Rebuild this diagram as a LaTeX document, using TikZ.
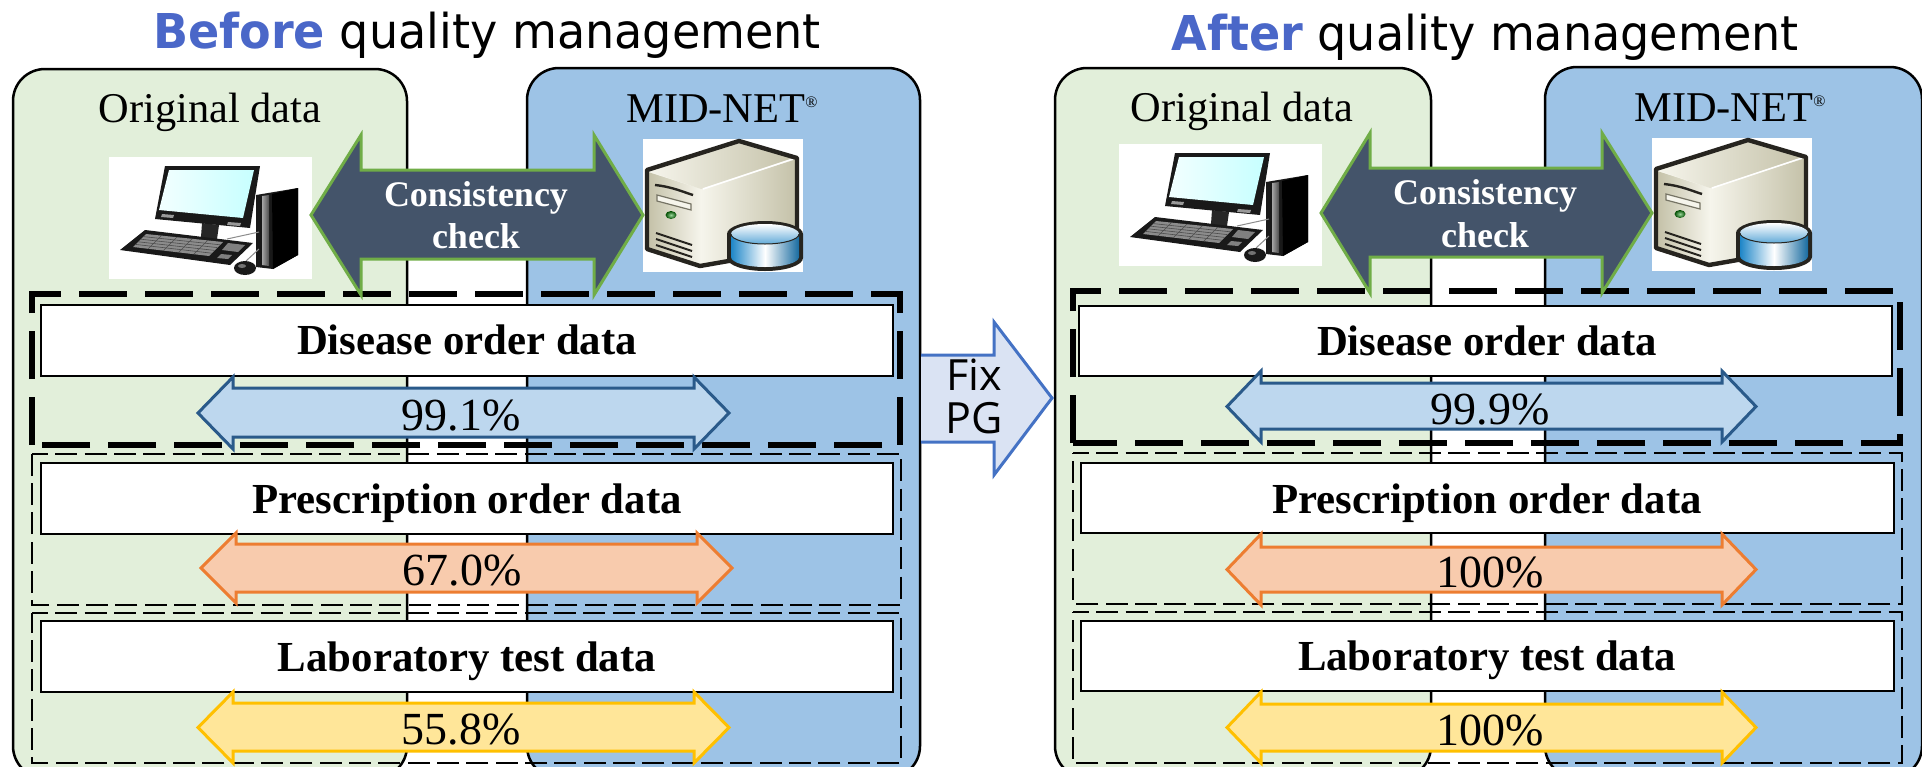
\documentclass[tikz,border=0pt]{standalone}
\usepackage{graphicx}
\usepackage{fontspec}
\setmainfont{Liberation Serif}
\newfontfamily\titlefont{DejaVu Sans}
\newfontfamily\fixfont{Open Sans}
\definecolor{panelgreen}{HTML}{E2EFDA}
\definecolor{panelblue}{HTML}{9DC3E6}
\definecolor{titleblue}{HTML}{4A67C8}
\definecolor{checkfill}{HTML}{44546A}
\definecolor{checkline}{HTML}{70AD47}
\definecolor{dfill}{HTML}{BDD7EE}
\definecolor{dline}{HTML}{2A5A8A}
\definecolor{pfill}{HTML}{F8CBAD}
\definecolor{pline}{HTML}{ED7D31}
\definecolor{lfill}{HTML}{FFE699}
\definecolor{lline}{HTML}{FFC000}
\definecolor{fixfill}{HTML}{DAE3F3}
\definecolor{fixline}{HTML}{4472C4}
\definecolor{srvlight}{HTML}{F6F5EC}
\definecolor{srvmid}{HTML}{C4C1A8}
\definecolor{srvdark}{HTML}{26241F}
\definecolor{cylblue}{HTML}{1E86C8}
\newcommand{\regmark}{\raisebox{7.5pt}{\fontsize{8}{8}\selectfont ®}}
\newcommand{\titleline}[2]{\scalebox{0.96}[1]{\textcolor{titleblue}{\bfseries #1} #2}}
\tikzset{
  panel/.style={draw=black,line width=1.25pt,rounded corners=16pt},
  bigdash/.style={draw=black,line width=3pt,dash pattern=on 24pt off 9pt},
  thindash/.style={draw=black,line width=1.25pt,dash pattern=on 11pt off 3.67pt,dash phase=3pt},
  databar/.style={draw=black,line width=1pt,fill=white},
  arrowline/.style={line width=1.5pt,line join=miter,miter limit=10},
  titletext/.style={anchor=base,inner sep=0pt,font=\titlefont\fontsize{24}{24}\selectfont},
  headtext/.style={anchor=base,inner sep=0pt,font=\fontsize{21.2}{21.2}\selectfont},
  bartext/.style={anchor=base,inner sep=0pt,font=\bfseries\fontsize{21.4}{21.4}\selectfont},
  checktext/.style={anchor=base,inner sep=0pt,text=white,font=\bfseries\fontsize{18}{18}\selectfont},
  pcttext/.style={anchor=base,inner sep=0pt,font=\fontsize{23}{23}\selectfont},
  fixtext/.style={anchor=base,inner sep=0pt,font=\fixfont\fontsize{21.5}{21.5}\selectfont},
  pcicon/.pic={
    \fill[white] (0,0) rectangle (203,122);
    % tower
    \fill[black!90] (147,38) -- (189,31) -- (189,98) -- (164,112) -- (147,110) -- cycle;
    \shade[left color=black!35,right color=black!70] (153,39) -- (160,38) -- (160,109) -- (153,108) -- cycle;
    \fill[black] (163,37) -- (189,31) -- (189,98) -- (164,112) -- cycle;
    % cables
    \draw[black!45,line width=.5pt] (118,82) -- (150,75);
    \draw[black!45,line width=.5pt] (137,104) -- (150,92);
    % stand
    \fill[black!85] (93,66) -- (110,68) -- (108,82) -- (126,85) -- (120,88) -- (84,84) -- (92,80) -- cycle;
    % monitor
    \fill[black!90] (56,9) -- (151,9) -- (141,71) -- (46,62) -- cycle;
    \shade[left color=cyan!5,right color=cyan!22] (60,13) -- (145,13) -- (134,61) -- (50,53) -- cycle;
    \fill[black!40] (53,57) -- (65,58) -- (64,61) -- (52,60) -- cycle;
    \fill[black!40] (119,65) -- (132,66) -- (131,69) -- (118,68) -- cycle;
    % keyboard
    \fill[black!90] (36,73) -- (144,86) -- (121,108) -- (11,93) -- cycle;
    \fill[black!45] (37,77) -- (114,85) -- (100,99) -- (24,90) -- cycle;
    \foreach \t in {0.2,0.4,0.6,0.8}{
      \draw[black!70,line width=.3pt] ($(37,77)!\t!(24,90)$) -- ($(114,85)!\t!(100,99)$);
      \draw[black!70,line width=.3pt] ($(37,77)!\t!(114,85)$) -- ($(24,90)!\t!(100,99)$);
    }
    \fill[black!50] (119,86) -- (136,88) -- (129,95) -- (113,93) -- cycle;
    \fill[black!50] (112,97) -- (123,98) -- (119,102) -- (108,101) -- cycle;
    % mouse
    \fill[black!90] (136,111) ellipse (11 and 7);
    \fill[black!55] (133,109) ellipse (4 and 2);
  },
  servericon/.pic={
    \fill[white] (0,0) rectangle (160,133);
    % body
    \fill[srvlight] (4,31) -- (96,2) -- (154,19) -- (154,110) -- (57,127) -- (4,110) -- cycle;
    \shade[left color=srvlight,right color=srvmid] (58,50) -- (154,20) -- (154,110) -- (58,126) -- cycle;
    \shade[left color=srvmid,right color=srvlight] (5,33) -- (58,50) -- (58,126) -- (5,110) -- cycle;
    \shade[left color=srvlight,right color=srvmid] (5,32) -- (95,3) -- (153,20) -- (58,50) -- cycle;
    \draw[white,line width=.8pt] (60,50) -- (150,20);
    \draw[srvdark,line width=2.2pt,line join=round] (4,31) -- (96,2) -- (154,19) -- (154,110) -- (57,127) -- (4,110) -- cycle;
    % front details
    \draw[srvdark,line width=1.2pt] (12,46) .. controls (30,48) and (40,53) .. (50,56);
    \draw[srvmid!60!black,fill=srvlight,line width=.6pt] (14,56) -- (48,65) -- (48,71) -- (14,62) -- cycle;
    \shade[inner color=green!60!black!40,outer color=green!30!black] (28,76) ellipse (5.5 and 4);
    \foreach \d in {0,6,12}{
      \draw[srvdark,line width=1pt] (13,94+\d) -- (49,106+\d);
    }
    % cylinder
    \fill[srvdark] (84,95) arc[start angle=180,end angle=360,x radius=38,y radius=13] -- (160,119) arc[start angle=0,end angle=180,x radius=38,y radius=13] -- cycle;
    \shade[left color=cylblue,right color=cylblue!80!black,middle color=white] (88,95) arc[start angle=180,end angle=0,x radius=34,y radius=10] -- (156,118) arc[start angle=0,end angle=180,x radius=34,y radius=10] -- cycle;
    \shade[top color=white,bottom color=cylblue!70] (122,95) ellipse (34 and 10);
    \draw[srvdark,line width=.5pt] (88,95) arc[start angle=180,end angle=0,x radius=34,y radius=10];
  }
}
\newcommand{\dblarrow}[9]{% style, x tip L, x base L, x base R, x tip R, head top, shaft top, shaft bottom, head bottom
  \path[#1] (#2,{(#6+#9)/2}) -- (#3,#6) -- (#3,#7) -- (#4,#7) -- (#4,#6) -- (#5,{(#6+#9)/2}) -- (#4,#9) -- (#4,#8) -- (#3,#8) -- (#3,#9) -- cycle;
}
\usetikzlibrary{calc}
\begin{document}
\begin{tikzpicture}[x=0.5pt,y=-0.5pt]
\useasboundingbox (0,0) rectangle (1922,766);
\begin{scope}
\clip (0,0) rectangle (1922,766);
% ---------- left panels
\path[panel,fill=panelgreen] (13,69) rectangle (407,778);
\path[panel,fill=panelblue] (527,68) rectangle (920,778);
% ---------- right panels
\path[panel,fill=panelgreen] (1055,68) rectangle (1431,778);
\path[panel,fill=panelblue] (1545,67) rectangle (1922,778);
\end{scope}
% ---------- titles
\node[titletext] (titleA) at (487,48) {\titleline{Before}{quality management}};
\node[titletext] (titleB) at (1485,50) {\titleline{After}{quality management}};
\node[headtext] (origA) at (210,122) {Original data};
\node[headtext] (midA) at (722,122) {MID-NET\regmark};
\node[headtext] (origB) at (1242,121) {Original data};
\node[headtext] (midB) at (1730,121) {MID-NET\regmark};
% ---------- icons
\pic at (109,157) {pcicon};
\pic at (643,139) {servericon};
\pic at (1119,144) {pcicon};
\pic at (1652,138) {servericon};
% ---------- fix arrow
\draw[arrowline,draw=fixline,fill=fixfill] (921,355) -- (994,355) -- (994,322) -- (1052,398) -- (994,475) -- (994,442) -- (921,442);
\node[fixtext] (fix) at (974,390) {Fix};
\node[fixtext] (pg) at (974,433) {PG};
% ---------- dashed frames, left
\draw[thindash] (32,454) -- (901,454) -- (901,605) -- (32,605) -- cycle;
\draw[thindash] (32,613) -- (901,613) -- (901,763) -- (32,763) -- cycle;
\draw[bigdash] (32,445) -- (32,294) -- (900,294) -- (900,445) -- cycle;
% ---------- dashed frames, right
\draw[thindash] (1073,453) -- (1902,453) -- (1902,604) -- (1073,604) -- cycle;
\draw[thindash] (1073,612) -- (1902,612) -- (1902,763) -- (1073,763) -- cycle;
\draw[bigdash] (1073,443) -- (1073,291) -- (1900,291) -- (1900,443) -- cycle;
% ---------- data bars, left
\path[databar] (41,305) rectangle (893,376);
\path[databar] (41,463) rectangle (893,534);
\path[databar] (41,621) rectangle (893,692);
\node[bartext] (disA) at (467,354) {Disease order data};
\node[bartext] (preA) at (467,513) {Prescription order data};
\node[bartext] (labA) at (467,671) {Laboratory test data};
% ---------- data bars, right
\path[databar] (1079,306) rectangle (1892,376);
\path[databar] (1081,463) rectangle (1894,533);
\path[databar] (1081,621) rectangle (1894,691);
\node[bartext] (disB) at (1487,355) {Disease order data};
\node[bartext] (preB) at (1487,513) {Prescription order data};
\node[bartext] (labB) at (1487,670) {Laboratory test data};
% ---------- consistency arrows
\dblarrow{arrowline,draw=checkline,fill=checkfill}{311}{361}{594}{643}{135}{170}{259}{295}
\dblarrow{arrowline,draw=checkline,fill=checkfill}{1321}{1370}{1602}{1652}{133}{168}{257}{293}
\node[checktext] (ccA) at (476,206) {Consistency};
\node[checktext] (ckA) at (476,248) {check};
\node[checktext] (ccB) at (1485,204) {Consistency};
\node[checktext] (ckB) at (1485,247) {check};
% ---------- rate arrows, left
\dblarrow{arrowline,draw=dline,fill=dfill}{198}{233}{694}{729}{377}{388}{437}{449}
\dblarrow{arrowline,draw=pline,fill=pfill}{201}{236}{697}{732}{533}{544}{592}{603}
\dblarrow{arrowline,draw=lline,fill=lfill}{198}{233}{694}{729}{692}{703}{751}{763}
\node[pcttext] (pdA) at (461,430) {99.1\%};
\node[pcttext] (ppA) at (462,585) {67.0\%};
\node[pcttext] (plA) at (461,744) {55.8\%};
% ---------- rate arrows, right
\dblarrow{arrowline,draw=dline,fill=dfill}{1227}{1261}{1722}{1756}{371}{383}{429}{442}
\dblarrow{arrowline,draw=pline,fill=pfill}{1227}{1261}{1722}{1756}{534}{547}{592}{605}
\dblarrow{arrowline,draw=lline,fill=lfill}{1227}{1261}{1722}{1756}{692}{704}{751}{763}
\node[pcttext] (pdB) at (1490,424) {99.9\%};
\node[pcttext] (ppB) at (1490,587) {100\%};
\node[pcttext] (plB) at (1490,745) {100\%};
\end{tikzpicture}
\end{document}
